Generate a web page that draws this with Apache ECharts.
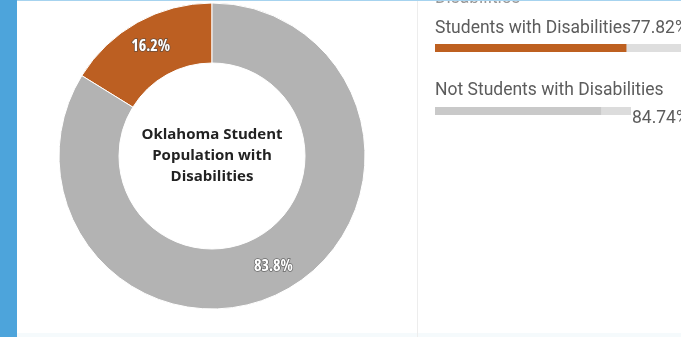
<!DOCTYPE html>
<html>
<head>
<meta charset="utf-8">
<script src="https://cdn.jsdelivr.net/npm/echarts@6/dist/echarts.min.js"></script>
<style>
  html, body { margin: 0; padding: 0; background: #fff; }
  #chart { width: 681px; height: 337px; }
</style>
</head>
<body>
<div id="chart"></div>
<script>
// Donut: share of Oklahoma students with / without disabilities
const sliceNames = ['Students with Disabilities', 'Not Students with Disabilities'];
const sliceValues = [16.2, 83.8];
const sliceColors = ['#BC5F22', '#B3B3B3'];

// Progress bars on the right
const barNames = ['Students with Disabilities', 'Not Students with Disabilities'];
const barValues = [77.82, 84.74];

const centerTitle = 'Oklahoma Student\nPopulation with\nDisabilities';
const panelHeading = 'Disabilities';

const chart = echarts.init(document.getElementById('chart'), null, { renderer: 'canvas' });

const pieLabel = {
  show: true,
  position: 'inside',
  formatter: p => p.value + '%',
  color: '#fff',
  fontStyle: 'condensed',
  fontFamily: '"Open Sans", sans-serif',
  fontWeight: 'bold',
  fontSize: 16,
  textBorderColor: 'rgba(70,70,70,0.7)',
  textBorderWidth: 1.5
};

const sideText = { color: '#5C5C5C', fontFamily: 'Roboto, sans-serif', fontSize: 17.5 };

chart.setOption({
  animation: false,
  graphic: [
    // left accent strip
    { type: 'rect', shape: { x: 0, y: 0, width: 17, height: 337 }, style: { fill: '#4DA4DB' }, z: 10 },
    // top hairline
    { type: 'rect', shape: { x: 17, y: 0, width: 664, height: 1 }, style: { fill: '#A6D3EF' }, z: 10 },
    // bottom band
    { type: 'rect', shape: { x: 17, y: 333, width: 664, height: 4 }, style: { fill: '#F5FAFC' }, z: 1 },
    // panel divider
    { type: 'rect', shape: { x: 417, y: 0, width: 1, height: 337 }, style: { fill: '#EDEDED' }, z: 1 },
    // panel heading (scrolled mostly out of view)
    {
      type: 'text', z: 5,
      style: { x: 435, y: 7.5, text: panelHeading, fill: '#999', textVerticalAlign: 'bottom',
               font: '17.5px Roboto, sans-serif' }
    },
    // donut centre title
    {
      type: 'text', z: 5,
      style: {
        x: 212, y: 156, text: centerTitle, textAlign: 'center', textVerticalAlign: 'middle',
        fill: '#222', font: 'bold 15px "Open Sans", sans-serif', lineHeight: 21
      }
    }
  ],
  grid: [
    { left: 435, top: 44, width: 251, height: 8 },
    { left: 435, top: 107, width: 196, height: 8 }
  ],
  xAxis: [
    { gridIndex: 0, type: 'value', min: 0, max: 100, show: false },
    { gridIndex: 1, type: 'value', min: 0, max: 100, show: false }
  ],
  yAxis: [
    { gridIndex: 0, type: 'category', data: [barNames[0]], show: false },
    { gridIndex: 1, type: 'category', data: [barNames[1]], show: false }
  ],
  series: [
    {
      type: 'pie',
      center: [212, 156],
      radius: [93, 153],
      startAngle: 90,
      clockwise: false,
      avoidLabelOverlap: false,
      itemStyle: { borderColor: '#fff', borderWidth: 1 },
      label: pieLabel,
      labelLine: { show: false },
      emphasis: { disabled: true },
      data: sliceNames.map((n, i) => ({ name: n, value: sliceValues[i], itemStyle: { color: sliceColors[i] } }))
    },
    {
      type: 'bar',
      xAxisIndex: 0, yAxisIndex: 0,
      barWidth: 8,
      data: [barValues[0]],
      itemStyle: { color: '#BE6020' },
      showBackground: true,
      backgroundStyle: { color: '#DEDEDE' },
      label: Object.assign({
        show: true,
        position: [0, -15],
        align: 'left',
        verticalAlign: 'middle',
        formatter: p => p.name + p.value + '%'
      }, sideText)
    },
    {
      type: 'bar',
      xAxisIndex: 1, yAxisIndex: 1,
      barWidth: 8,
      data: [barValues[1]],
      itemStyle: { color: '#C9C9C9' },
      showBackground: true,
      backgroundStyle: { color: '#DCDCDC' },
      label: Object.assign({
        show: true,
        position: [0, -16],
        align: 'left',
        verticalAlign: 'middle',
        formatter: p => p.name
      }, sideText)
    },
    {
      // value readout to the right of the second track
      type: 'bar',
      xAxisIndex: 1, yAxisIndex: 1,
      barWidth: 8,
      barGap: '-100%',
      data: [barValues[1]],
      itemStyle: { color: 'rgba(0,0,0,0)' },
      label: Object.assign({
        show: true,
        position: [197, 12],
        align: 'left',
        verticalAlign: 'middle',
        formatter: p => p.value + '%'
      }, sideText)
    }
  ]
});
</script>
</body>
</html>
